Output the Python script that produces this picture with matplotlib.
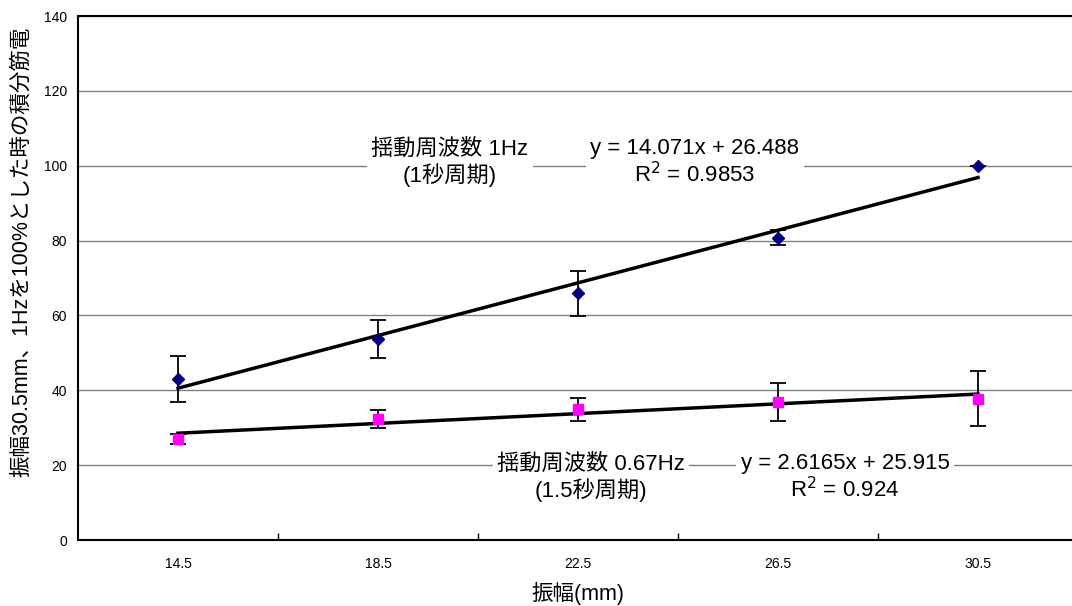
import numpy as np
import matplotlib.pyplot as plt

plt.rcParams['font.family'] = ['Liberation Sans', 'Noto Sans CJK JP', 'DejaVu Sans']

# data
amplitudes = ["14.5", "18.5", "22.5", "26.5", "30.5"]
hz1_mean = [43.0, 53.7, 65.9, 80.8, 100.0]
hz1_err = [6.1, 5.1, 6.1, 1.9, 0.0]
hz067_mean = [26.9, 32.3, 34.9, 36.8, 37.8]
hz067_err = [1.3, 2.4, 3.0, 5.1, 7.3]
fit1 = (14.071, 26.488)
fit067 = (2.6165, 25.915)

x = np.arange(1, len(amplitudes) + 1)

fig = plt.figure(figsize=(10.72, 6.06), dpi=100)
ax = fig.add_axes([78 / 1072, 1 - 540 / 606, 1000 / 1072, 524 / 606])

# grid
for g in range(20, 141, 20):
    ax.axhline(g, color='#808080', lw=1.0, zorder=0)

# trendlines
xs = np.array([1, 5])
ax.plot(xs, fit1[0] * xs + fit1[1], color='black', lw=2.5, zorder=2)
ax.plot(xs, fit067[0] * xs + fit067[1], color='black', lw=2.5, zorder=2)

# series with error bars
ax.errorbar(x, hz1_mean, yerr=hz1_err, fmt='D', color='#000080', ms=6,
            ecolor='black', elinewidth=1.3, capsize=6, capthick=1.3, zorder=3)
ax.errorbar(x, hz067_mean, yerr=hz067_err, fmt='s', color='#FF00FF', ms=7,
            ecolor='black', elinewidth=1.3, capsize=6, capthick=1.3, zorder=3)

ax.set_xlim(0.5, 5.5)
ax.set_ylim(0, 140)
ax.set_yticks(range(0, 141, 20))
ax.tick_params(axis='y', labelsize=10, length=0, pad=8)

# category labels at centers, tick marks at boundaries
ax.set_xticks(np.arange(1.5, 5.5, 1.0))
ax.set_xticklabels([])
ax.tick_params(axis='x', which='major', direction='in', length=5, width=1)
ax.set_xticks(x, minor=True)
ax.set_xticklabels(amplitudes, minor=True)
ax.tick_params(axis='x', which='minor', length=0, labelsize=10, pad=12)

for s in ax.spines.values():
    s.set_color('black')
    s.set_linewidth(1.5)

ax.set_xlabel('振幅(mm)', fontsize=15.5, labelpad=8)
ax.set_ylabel('振幅30.5mm、1Hzを100%とした時の積分筋電', fontsize=15.5)
ax.yaxis.set_label_coords(-0.046, 0.55)

box = dict(facecolor='white', edgecolor='none', pad=3)
ax.text(2.36, 100.8, '揺動周波数 1Hz\n(1秒周期)', fontsize=16, ha='center',
        va='center', linespacing=1.15, bbox=box, zorder=4)
ax.text(3.585, 100.8, 'y = 14.071x + 26.488\nR$^2$ = 0.9853', fontsize=16,
        ha='center', va='center', linespacing=1.15, bbox=box, zorder=4)
ax.text(3.065, 16.6, '揺動周波数 0.67Hz\n(1.5秒周期)', fontsize=16, ha='center',
        va='center', linespacing=1.15, bbox=box, zorder=4)
ax.text(4.335, 16.6, 'y = 2.6165x + 25.915\nR$^2$ = 0.924', fontsize=16,
        ha='center', va='center', linespacing=1.15, bbox=box, zorder=4)

fig.savefig('out.png', dpi=100)
